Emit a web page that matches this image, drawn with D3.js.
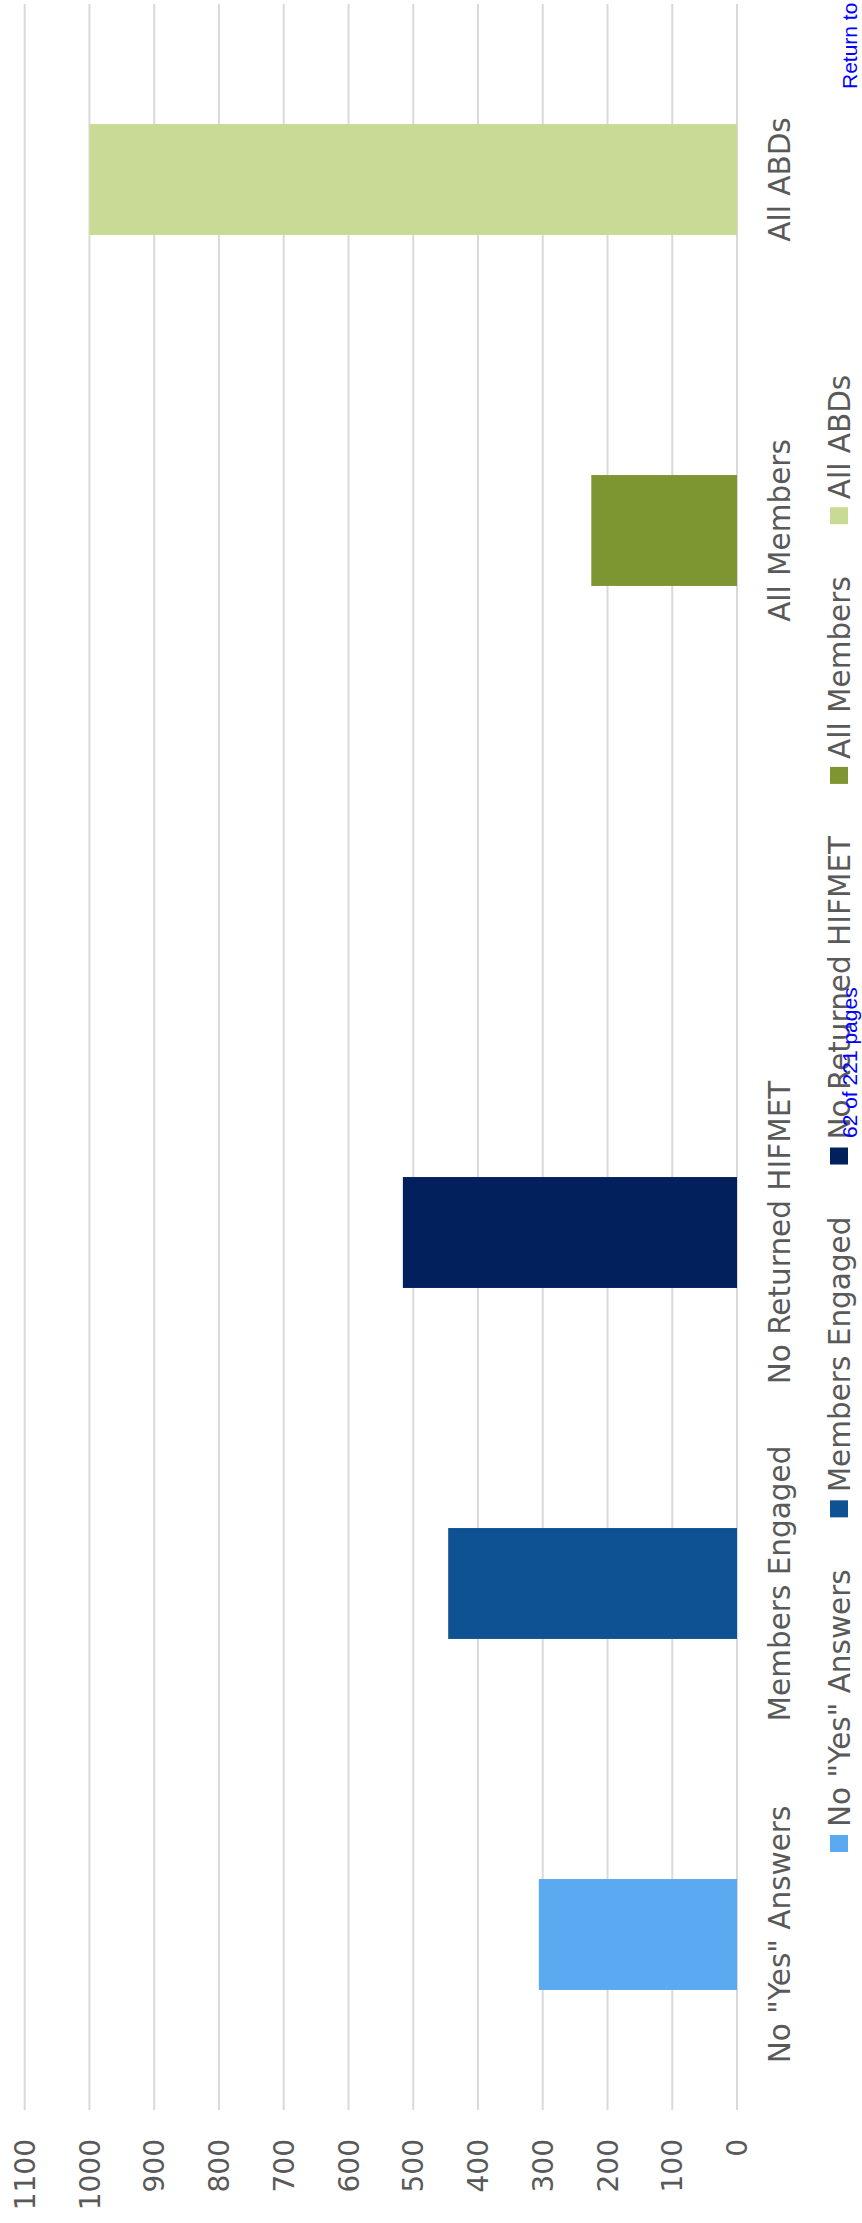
<!DOCTYPE html>
<html>
<head>
<meta charset="utf-8">
<script src="https://cdn.jsdelivr.net/npm/d3@7"></script>
<style>
  html, body { margin: 0; padding: 0; background: #ffffff; }
  svg { display: block; }
</style>
</head>
<body>
<svg id="chart" width="862" height="2223"></svg>
<script>
// ---- data ----
const categories = ["No \"Yes\" Answers", "Members Engaged", "No Returned HIFMET", "", "All Members", "All ABDs"];
const values = [306, 446, 516, null, 225, 1000];
const seriesNames = ["No \"Yes\" Answers", "Members Engaged", "No Returned HIFMET", "All Members", "All ABDs"];
const tickValues = [0, 100, 200, 300, 400, 500, 600, 700, 800, 900, 1000, 1100];
const pageLabel = "62 of 221 pages";
const returnLabel = "Return to";

// ---- styles ----
const seriesColors = ["#5ba9f1", "#0e5293", "#02205c", "#7d9632", "#c9da94"];
const textColor = "#595959";
const gridColor = "#d9d9d9";
const fontFamily = "'DejaVu Sans', sans-serif";

const svg = d3.select("#chart");
const color = d3.scaleOrdinal().domain(seriesNames).range(seriesColors);

// value axis runs horizontally (chart is rotated 90°)
const x = d3.scaleLinear().domain([0, 1100]).range([737, 24.7]);
// category axis runs vertically, first category at the bottom
const y = d3.scaleBand().domain(categories).range([2110, 4])
  .paddingInner(0.684).paddingOuter(0.342);

// gridlines
svg.append("g").selectAll("line").data(tickValues).join("line")
  .attr("x1", d => x(d)).attr("x2", d => x(d))
  .attr("y1", 4).attr("y2", 2110)
  .attr("stroke", gridColor).attr("stroke-width", 2);

// tick labels (rotated)
svg.append("g").selectAll("text").data(tickValues).join("text")
  .attr("transform", d => `translate(${x(d)},2139) rotate(-90)`)
  .attr("text-anchor", "end")
  .attr("dy", "0.36em")
  .attr("font-family", fontFamily)
  .attr("font-size", 28)
  .attr("fill", textColor)
  .text(d => d);

// bars
const barData = categories.map((c, i) => ({ c, v: values[i] })).filter(d => d.v != null);
svg.append("g").selectAll("rect").data(barData).join("rect")
  .attr("x", d => x(d.v))
  .attr("y", d => y(d.c))
  .attr("width", d => x(0) - x(d.v))
  .attr("height", y.bandwidth())
  .attr("fill", d => color(d.c));

// category labels (rotated)
svg.append("g").selectAll("text").data(categories.filter(c => c !== "")).join("text")
  .attr("transform", d => `translate(790,${y(d) + y.bandwidth() / 2}) rotate(-90)`)
  .attr("text-anchor", "middle")
  .attr("font-family", fontFamily)
  .attr("font-size", 29.5)
  .attr("fill", textColor)
  .text(d => d);

// legend (rotated, reading bottom to top)
const legend = svg.append("g");
let pos = 1852;
seriesNames.forEach((name, i) => {
  legend.append("rect")
    .attr("x", 830).attr("y", pos - 17)
    .attr("width", 18).attr("height", 17)
    .attr("fill", color(name));
  const t = legend.append("text")
    .attr("transform", `translate(850,${pos - 17 - 8}) rotate(-90)`)
    .attr("text-anchor", "start")
    .attr("font-family", fontFamily)
    .attr("font-size", 29.5)
    .attr("fill", textColor)
    .text(name);
  const len = t.node().getComputedTextLength();
  pos = pos - 17 - 8 - len - 52;
});

// page overlay texts
svg.append("text")
  .attr("transform", "translate(857,1138) rotate(-90)")
  .attr("font-family", "'Liberation Sans', Arial, sans-serif")
  .attr("font-size", 21)
  .attr("fill", "#0000ff")
  .text(pageLabel);

svg.append("text")
  .attr("transform", "translate(857,89) rotate(-90)")
  .attr("font-family", "'Liberation Sans', Arial, sans-serif")
  .attr("font-size", 21)
  .attr("fill", "#0000ff")
  .text(returnLabel);
</script>
</body>
</html>
